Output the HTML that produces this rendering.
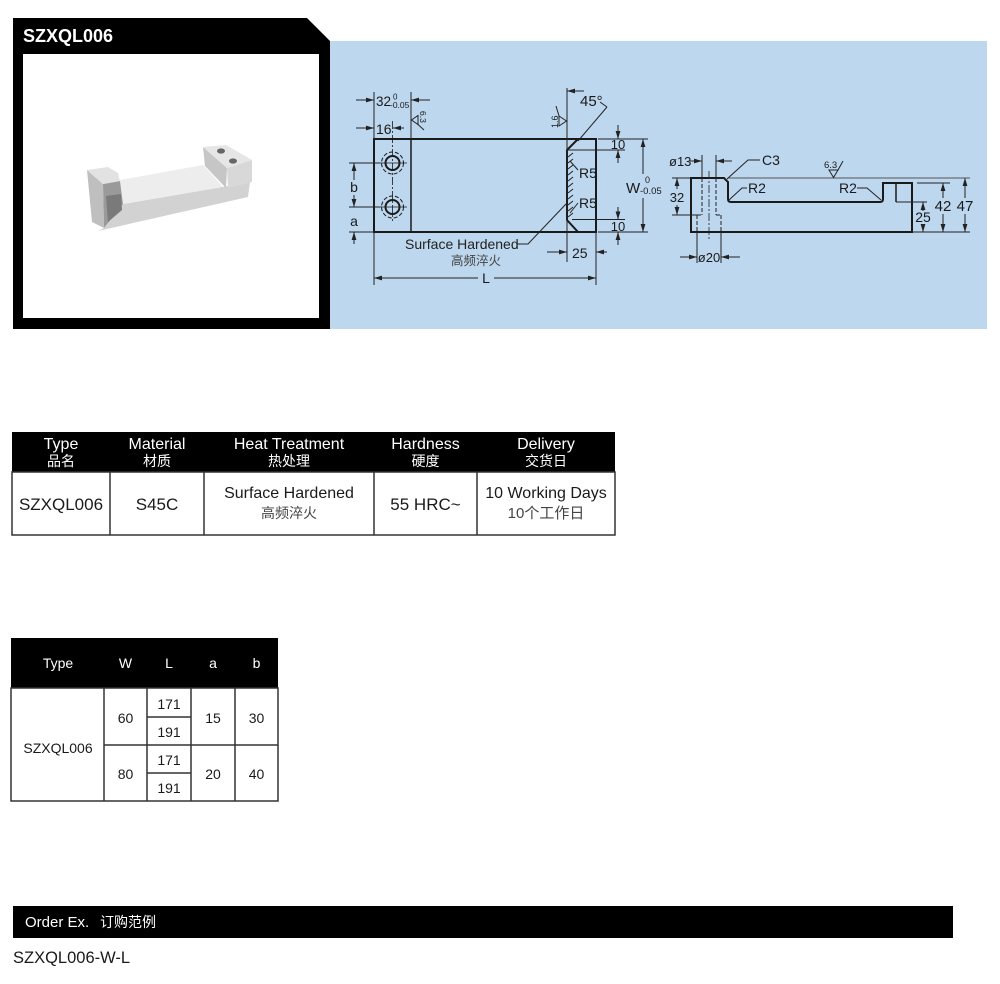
<!DOCTYPE html>
<html><head><meta charset="utf-8"><style>
html,body{margin:0;padding:0;background:#fff;}
svg{display:block;}
text{font-family:"Liberation Sans","Noto Sans CJK SC",sans-serif;}
</style></head><body>
<svg width="1000" height="984" viewBox="0 0 1000 984" xmlns="http://www.w3.org/2000/svg">
<defs>
<marker id="ar" viewBox="0 0 10 6" refX="10" refY="3" markerWidth="8" markerHeight="4.8" orient="auto" markerUnits="userSpaceOnUse"><path d="M0,0 L10,3 L0,6 z" fill="#222"/></marker>
</defs>
<rect x="0" y="0" width="1000" height="984" fill="#fff"/>
<!-- header panel -->
<path d="M13,18 L307,18 L330,41 L330,329 L13,329 Z" fill="#000"/>
<rect x="23" y="54" width="296" height="264" fill="#fff"/>
<rect x="330" y="41" width="657" height="288" fill="#bdd7ee"/>
<text x="23" y="42" font-size="18" font-weight="bold" fill="#fff">SZXQL006</text>

<!-- product photo -->
<g stroke="none">
<polygon points="104,228 123,204 228,186 250,182 248,197 98,231" fill="#d2d2d2"/>
<polygon points="120,180 203,165 223,187 123,204" fill="#ededed"/>
<polygon points="87,170 103,184 104,228 92,222" fill="#bfbfbf"/>
<polygon points="103,184 120,181 123,204 104,228" fill="#9a9a9a"/>
<polygon points="106,196 121,194 122,210 108,222" fill="#7a7a7a"/>
<polygon points="87,170 108,167 118,173 120,181 103,184" fill="#e2e2e2"/>
<polygon points="203,147 205,166 226,188 227,168" fill="#c6c6c6"/>
<polygon points="203,147 226,145 252,160 227,168" fill="#e6e6e6"/>
<polygon points="227,168 252,160 252,182 228,188" fill="#d8d8d8"/>
<ellipse cx="221" cy="151" rx="4" ry="2.6" fill="#666"/>
<ellipse cx="233" cy="161" rx="4" ry="2.6" fill="#666"/>
</g>

<!-- LEFT VIEW -->
<g fill="none" stroke="#1a1a1a">
<rect x="374" y="139" width="222" height="93" stroke-width="2"/>
<line x1="411" y1="139" x2="411" y2="232" stroke-width="1.5"/>
<circle cx="392.5" cy="163" r="7" stroke-width="2"/>
<circle cx="392.5" cy="207" r="7" stroke-width="2"/>
<circle cx="392.5" cy="163" r="11" stroke-width="1" stroke-dasharray="4 2"/>
<circle cx="392.5" cy="207" r="11" stroke-width="1" stroke-dasharray="4 2"/>
<line x1="378" y1="163" x2="407" y2="163" stroke-width="0.8"/>
<line x1="378" y1="207" x2="407" y2="207" stroke-width="0.8"/>
<line x1="392.5" y1="121" x2="392.5" y2="221" stroke-width="0.8" stroke-dasharray="8 2 2 2"/>
<polyline points="578,139 567,150 567,220 578,232" stroke-width="2"/>
</g>
<g fill="none" stroke="#222" stroke-width="1">
<line x1="567" y1="88" x2="567" y2="262"/>
<line x1="567" y1="150" x2="625" y2="150"/>
<line x1="572" y1="219.5" x2="625" y2="219.5"/>
<line x1="598" y1="139" x2="648" y2="139"/>
<line x1="598" y1="232" x2="648" y2="232"/>
<!-- hatch -->
<path d="M568,157 l5,-4 M568,163 l5,-4 M568,169 l5,-4 M568,175 l5,-4 M568,181 l5,-4 M568,187 l5,-4 M568,193 l5,-4 M568,199 l5,-4 M568,205 l5,-4 M568,211 l5,-4 M568,217 l5,-4"/>
<!-- 10 top -->
<line x1="618" y1="125" x2="618" y2="139" marker-end="url(#ar)"/>
<line x1="618" y1="163" x2="618" y2="150" marker-end="url(#ar)"/>
<!-- 10 bottom -->
<line x1="618" y1="207" x2="618" y2="219.5" marker-end="url(#ar)"/>
<line x1="618" y1="245" x2="618" y2="232" marker-end="url(#ar)"/>
<!-- W -->
<line x1="643" y1="174" x2="643" y2="139" marker-end="url(#ar)"/>
<line x1="643" y1="198" x2="643" y2="232" marker-end="url(#ar)"/>
<!-- 25 -->
<line x1="547" y1="252" x2="567" y2="252" marker-end="url(#ar)"/>
<line x1="607" y1="252" x2="596" y2="252" marker-end="url(#ar)"/>
<line x1="596" y1="232" x2="596" y2="285"/>
<line x1="374" y1="232" x2="374" y2="285"/>
<!-- L -->
<line x1="478" y1="278" x2="374" y2="278" marker-end="url(#ar)"/>
<line x1="494" y1="278" x2="596" y2="278" marker-end="url(#ar)"/>
<!-- surface hardened leader -->
<polyline points="517,244 528,244 566,204"/>
<!-- R5 leaders -->
<line x1="578" y1="170" x2="570" y2="161"/>
<line x1="578" y1="203" x2="570" y2="213"/>
<!-- 45 -->
<line x1="584" y1="91" x2="567" y2="91" marker-end="url(#ar)"/>
<line x1="578" y1="141" x2="607" y2="107"/>
<line x1="600" y1="102" x2="607" y2="107"/>
<!-- 1.6 symbol -->
<path d="M566.5,121 L559,116 L559,126 Z"/>
<line x1="559" y1="116" x2="556" y2="106"/>
<!-- 32 -->
<line x1="374" y1="92" x2="374" y2="139"/>
<line x1="411" y1="92" x2="411" y2="139"/>
<line x1="356" y1="100" x2="374" y2="100" marker-end="url(#ar)"/>
<line x1="430" y1="100" x2="411" y2="100" marker-end="url(#ar)"/>
<!-- 16 -->
<line x1="356" y1="128" x2="374" y2="128" marker-end="url(#ar)"/>
<line x1="404" y1="128" x2="393" y2="128" marker-end="url(#ar)"/>
<!-- 6.3 symbol -->
<path d="M411.5,120 L418,115.5 L418,124.5 Z"/>
<line x1="418" y1="124.5" x2="424" y2="130"/>
<!-- a b -->
<line x1="349" y1="163" x2="380" y2="163"/>
<line x1="349" y1="207" x2="380" y2="207"/>
<line x1="349" y1="232" x2="374" y2="232"/>
<line x1="354" y1="180" x2="354" y2="163" marker-end="url(#ar)"/>
<line x1="354" y1="195" x2="354" y2="207" marker-end="url(#ar)"/>
<line x1="354" y1="244" x2="354" y2="232" marker-end="url(#ar)"/>
</g>
<g fill="#1a1a1a">
<text x="376" y="106" font-size="13.5">32</text>
<text x="393" y="99.5" font-size="8">0</text>
<text x="390" y="108" font-size="8.5">-0.05</text>
<text x="376" y="134" font-size="14">16</text>
<text transform="translate(420,111) rotate(90)" font-size="8.5">6.3</text>
<text transform="translate(558,128) rotate(-90)" font-size="9">1.6</text>
<text x="580" y="106" font-size="15">45°</text>
<text x="618" y="149" font-size="13" text-anchor="middle">10</text>
<text x="618" y="231" font-size="13" text-anchor="middle">10</text>
<text x="579" y="178" font-size="14">R5</text>
<text x="579" y="208" font-size="14">R5</text>
<text x="626" y="193" font-size="15">W</text>
<text x="645" y="183" font-size="9">0</text>
<text x="640" y="194" font-size="9.5">-0.05</text>
<text x="572" y="258" font-size="14">25</text>
<text x="486" y="283" font-size="14" text-anchor="middle">L</text>
<text x="354" y="192" font-size="14" text-anchor="middle">b</text>
<text x="354" y="226" font-size="14" text-anchor="middle">a</text>
<text x="405" y="249" font-size="14" fill="#222">Surface Hardened</text>
<text x="476" y="265" font-size="12.5" fill="#444" text-anchor="middle">高频淬火</text>
</g>

<!-- RIGHT VIEW -->
<g fill="none" stroke="#1a1a1a">
<path d="M691,178 L724,178 L728,182 L728,199 Q728,202 731,202 L880,202 Q883,202 883,199 L883,183 L912,183 L912,232 L691,232 Z" stroke-width="2"/>
<line x1="896" y1="183" x2="896" y2="202" stroke-width="1.5"/>
</g>
<g fill="none" stroke="#222" stroke-width="1">
<line x1="728" y1="178" x2="970" y2="178" stroke="#555"/>
<line x1="896" y1="202" x2="927" y2="202"/>
<line x1="917" y1="183" x2="950" y2="183"/>
<line x1="912" y1="232" x2="970" y2="232"/>
<g stroke-dasharray="4 2">
<line x1="702" y1="178" x2="702" y2="215"/>
<line x1="716" y1="178" x2="716" y2="215"/>
<line x1="697" y1="215" x2="697" y2="232"/>
<line x1="721" y1="215" x2="721" y2="232"/>
<line x1="697" y1="215" x2="702" y2="215"/>
<line x1="716" y1="215" x2="721" y2="215"/>
</g>
<line x1="709" y1="171" x2="709" y2="240" stroke-dasharray="8 2 2 2" stroke-width="0.8"/>
<!-- 32 -->
<line x1="672" y1="178" x2="691" y2="178"/>
<line x1="672" y1="215" x2="697" y2="215"/>
<line x1="677" y1="189" x2="677" y2="178" marker-end="url(#ar)"/>
<line x1="677" y1="205" x2="677" y2="215" marker-end="url(#ar)"/>
<!-- ø13 -->
<line x1="702" y1="155" x2="702" y2="178"/>
<line x1="716" y1="155" x2="716" y2="178"/>
<line x1="690" y1="161" x2="702" y2="161" marker-end="url(#ar)"/>
<line x1="732" y1="161" x2="716" y2="161" marker-end="url(#ar)"/>
<!-- ø20 -->
<line x1="697" y1="232" x2="697" y2="263"/>
<line x1="721" y1="232" x2="721" y2="263"/>
<line x1="680" y1="257" x2="697" y2="257" marker-end="url(#ar)"/>
<line x1="740" y1="257" x2="721" y2="257" marker-end="url(#ar)"/>
<!-- leaders -->
<polyline points="727,179 748,160 760,160"/>
<polyline points="729,200 742,188 747,188"/>
<polyline points="857,188 867,188 881,200"/>
<!-- 6.3 -->
<path d="M833.5,177.5 L829,170 L838,170 Z"/>
<line x1="838" y1="170" x2="843" y2="161"/>
<!-- 47 -->
<line x1="965" y1="198" x2="965" y2="178" marker-end="url(#ar)"/>
<line x1="965" y1="214" x2="965" y2="232" marker-end="url(#ar)"/>
<!-- 42 -->
<line x1="943" y1="198" x2="943" y2="183" marker-end="url(#ar)"/>
<line x1="943" y1="214" x2="943" y2="232" marker-end="url(#ar)"/>
<!-- 25 -->
<line x1="923" y1="211" x2="923" y2="202" marker-end="url(#ar)"/>
<line x1="923" y1="224" x2="923" y2="232" marker-end="url(#ar)"/>
</g>
<g fill="#1a1a1a">
<text x="677" y="202" font-size="13" text-anchor="middle">32</text>
<text x="669" y="166" font-size="13">ø13</text>
<text x="709" y="262" font-size="13" text-anchor="middle">ø20</text>
<text x="762" y="165" font-size="14">C3</text>
<text x="748" y="193" font-size="14">R2</text>
<text x="839" y="193" font-size="14">R2</text>
<text x="824" y="168" font-size="9.5">6.3</text>
<text x="965" y="211" font-size="15" text-anchor="middle">47</text>
<text x="943" y="211" font-size="15" text-anchor="middle">42</text>
<text x="923" y="222" font-size="14" text-anchor="middle">25</text>
</g>

<!-- TABLE 1 -->
<rect x="12" y="432" width="603" height="40" fill="#000"/>
<rect x="12" y="472" width="603" height="63" fill="#fff" stroke="#333" stroke-width="1.5"/>
<g stroke="#333" stroke-width="1.5">
<line x1="110" y1="472" x2="110" y2="535"/>
<line x1="204" y1="472" x2="204" y2="535"/>
<line x1="374" y1="472" x2="374" y2="535"/>
<line x1="477" y1="472" x2="477" y2="535"/>
</g>
<g fill="#fff" text-anchor="middle">
<text x="61" y="449" font-size="16">Type</text>
<text x="61" y="466" font-size="14">品名</text>
<text x="157" y="449" font-size="16">Material</text>
<text x="157" y="466" font-size="14">材质</text>
<text x="289" y="449" font-size="16">Heat Treatment</text>
<text x="289" y="466" font-size="14">热处理</text>
<text x="425.5" y="449" font-size="16">Hardness</text>
<text x="425.5" y="466" font-size="14">硬度</text>
<text x="546" y="449" font-size="16">Delivery</text>
<text x="546" y="466" font-size="14">交货日</text>
</g>
<g fill="#1a1a1a" text-anchor="middle">
<text x="61" y="510" font-size="17">SZXQL006</text>
<text x="157" y="510" font-size="17">S45C</text>
<text x="289" y="498" font-size="16">Surface Hardened</text>
<text x="289" y="518" font-size="14" fill="#444">高频淬火</text>
<text x="425.5" y="510" font-size="17">55 HRC~</text>
<text x="546" y="498" font-size="16">10 Working Days</text>
<text x="546" y="518" font-size="15" fill="#444">10个工作日</text>
</g>

<!-- TABLE 2 -->
<rect x="11" y="638" width="267" height="50" fill="#000"/>
<rect x="11" y="688" width="267" height="113" fill="#fff" stroke="#333" stroke-width="1.5"/>
<g stroke="#333" stroke-width="1.5">
<line x1="104" y1="688" x2="104" y2="801"/>
<line x1="147" y1="688" x2="147" y2="801"/>
<line x1="191" y1="688" x2="191" y2="801"/>
<line x1="235" y1="688" x2="235" y2="801"/>
<line x1="104" y1="745" x2="278" y2="745"/>
<line x1="147" y1="717" x2="191" y2="717"/>
<line x1="147" y1="773" x2="191" y2="773"/>
</g>
<g fill="#fff" text-anchor="middle" font-size="14">
<text x="58" y="668">Type</text>
<text x="125.5" y="668">W</text>
<text x="169" y="668">L</text>
<text x="213" y="668">a</text>
<text x="256.5" y="668">b</text>
</g>
<g fill="#1a1a1a" text-anchor="middle" font-size="14">
<text x="58" y="753">SZXQL006</text>
<text x="125.5" y="723">60</text>
<text x="125.5" y="779">80</text>
<text x="169" y="709">171</text>
<text x="169" y="737">191</text>
<text x="169" y="765">171</text>
<text x="169" y="793">191</text>
<text x="213" y="723">15</text>
<text x="256.5" y="723">30</text>
<text x="213" y="779">20</text>
<text x="256.5" y="779">40</text>
</g>

<!-- ORDER EX -->
<rect x="13" y="906" width="940" height="32" fill="#000"/>
<text x="25" y="927" font-size="15" fill="#fff">Order Ex.</text>
<text x="100" y="927" font-size="14" fill="#fff">订购范例</text>
<text x="13" y="963" font-size="16.5" fill="#1a1a1a">SZXQL006-W-L</text>
</svg>
</body></html>
